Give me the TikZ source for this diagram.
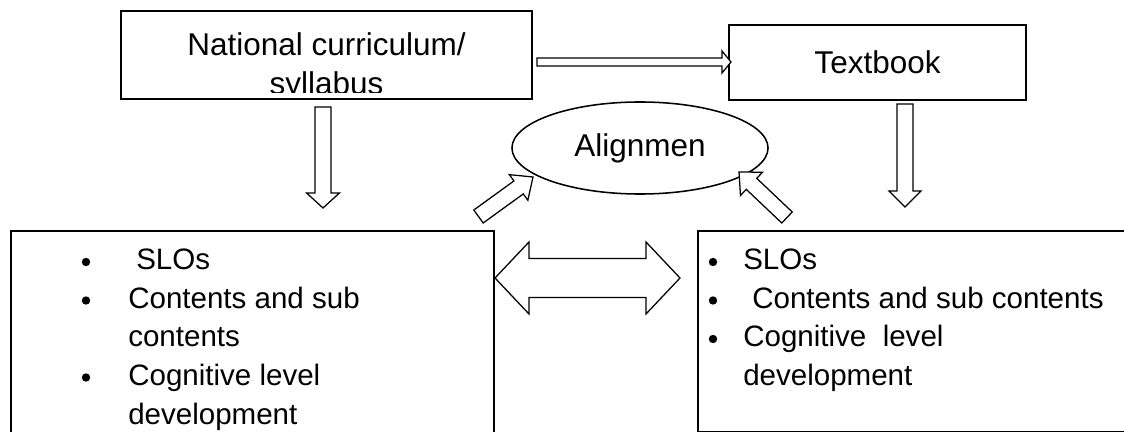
\documentclass[tikz,border=0pt]{standalone}
\usepackage{fontspec}
\setmainfont{Liberation Sans}
\usetikzlibrary{shapes,shapes.geometric,calc}
\tikzset{
  box_top/.style = {draw, rectangle, line width=1.4pt, inner sep=0pt, font=\fontsize{22.4}{26}\selectfont},
  box_list/.style = {draw, rectangle, line width=1.4pt, inner sep=0pt, anchor=north west},
  ell_n/.style = {draw, ellipse, line width=1.1pt, inner sep=0pt, font=\fontsize{22.4}{26}\selectfont},
  txt_t/.style = {inner sep=0pt, anchor=base, font=\fontsize{22.4}{26}\selectfont},
  txt_l/.style = {inner sep=0pt, anchor=base west, font=\fontsize{21}{25}\selectfont},
  bul_l/.style = {circle, fill=black, inner sep=0pt, minimum size=0.21cm},
  blk/.style = {draw, line width=0.9pt, fill=white, line join=miter}
}
% hollow block arrow: from, to, half shaft, half head, head length
\newcommand{\blockarrow}[5]{%
  \coordinate (hd) at ($(#2)!#5!(#1)$);
  \draw[blk] ($(#1)!#3!90:(#2)$) -- ($(hd)!#3!90:(#2)$) -- ($(hd)!#4!90:(#2)$) -- (#2)
    -- ($(hd)!#4!-90:(#2)$) -- ($(hd)!#3!-90:(#2)$) -- ($(#1)!#3!-90:(#2)$) -- cycle;
}
% hollow arrow with a head at both ends
\newcommand{\twinarrow}[5]{%
  \coordinate (ha) at ($(#1)!#5!(#2)$);
  \coordinate (hb) at ($(#2)!#5!(#1)$);
  \draw[blk] (#1) -- ($(ha)!#4!90:(#2)$) -- ($(ha)!#3!90:(#2)$) -- ($(hb)!#3!-90:(#1)$)
    -- ($(hb)!#4!-90:(#1)$) -- (#2) -- ($(hb)!#4!90:(#1)$) -- ($(hb)!#3!90:(#1)$)
    -- ($(ha)!#3!-90:(#2)$) -- ($(ha)!#4!-90:(#2)$) -- cycle;
}

\begin{document}
\begin{tikzpicture}[x=0.025cm, y=-0.025cm]
\useasboundingbox (0,0) rectangle (1124,432);

% top row
\node [box_top, minimum width=10.275cm, minimum height=2.2cm] (natcur) at (326.5,55) {};
\begin{scope}
  \clip (121,11) rectangle (532,93);
  \node [txt_t] (natcur_a) at (326.5,56) {National curriculum/};
  \node [txt_t] (natcur_b) at (326.5,95) {syllabus};
\end{scope}
\node [box_top, minimum width=7.425cm, minimum height=1.875cm] (textbook) at (877.5,62.5) {Textbook};

% centre
\node [ell_n, minimum width=6.4cm, minimum height=2.3cm] (align) at (640,148) {Alignmen};

% bottom boxes
\node [box_list, minimum width=12.075cm, minimum height=5.375cm] (slobox) at (10,230) {};
\node [box_list, minimum width=11.075cm, minimum height=5.025cm] (tbkbox) at (697,230) {};

\node [bul_l] (sb1) at (86,262) {};
\node [txt_l] (st1) at (136,270) {SLOs};
\node [bul_l] (sb2) at (86,300.5) {};
\node [txt_l] (st2) at (128,308.5) {Contents and sub};
\node [txt_l] (st3) at (128,347) {contents};
\node [bul_l] (sb3) at (86,377.5) {};
\node [txt_l] (st4) at (128,385.5) {Cognitive level};
\node [txt_l] (st5) at (128,424) {development};

\node [bul_l] (tb1) at (713,262) {};
\node [txt_l] (tt1) at (743,270) {SLOs};
\node [bul_l] (tb2) at (713,300.5) {};
\node [txt_l] (tt2) at (752,308.5) {Contents and sub contents};
\node [bul_l] (tb3) at (713,339) {};
\node [txt_l] (tt3) at (743,347) {Cognitive\ \ level};
\node [txt_l] (tt4) at (743,385.5) {development};

% arrow ends
\coordinate (h_s) at (537,62);
\coordinate (h_e) at (731,62);
\coordinate (dl_s) at (323,107);
\coordinate (dl_e) at (323,208);
\coordinate (dr_s) at (905,104);
\coordinate (dr_e) at (905,207);
\coordinate (gl_s) at (478.5,216.5);
\coordinate (gl_e) at (533,177);
\coordinate (gr_s) at (787,217.5);
\coordinate (gr_e) at (739,172);
\coordinate (bd_l) at (495,278);
\coordinate (bd_r) at (680,278);

\blockarrow{h_s}{h_e}{0.1cm}{0.275cm}{0.225cm}
\blockarrow{dl_s}{dl_e}{0.2cm}{0.41cm}{0.375cm}
\blockarrow{dr_s}{dr_e}{0.2cm}{0.4cm}{0.4cm}
\blockarrow{gl_s}{gl_e}{0.2cm}{0.395cm}{0.445cm}
\blockarrow{gr_s}{gr_e}{0.19cm}{0.4cm}{0.43cm}
\twinarrow{bd_l}{bd_r}{0.49cm}{0.9cm}{0.85cm}

\end{tikzpicture}
\end{document}
